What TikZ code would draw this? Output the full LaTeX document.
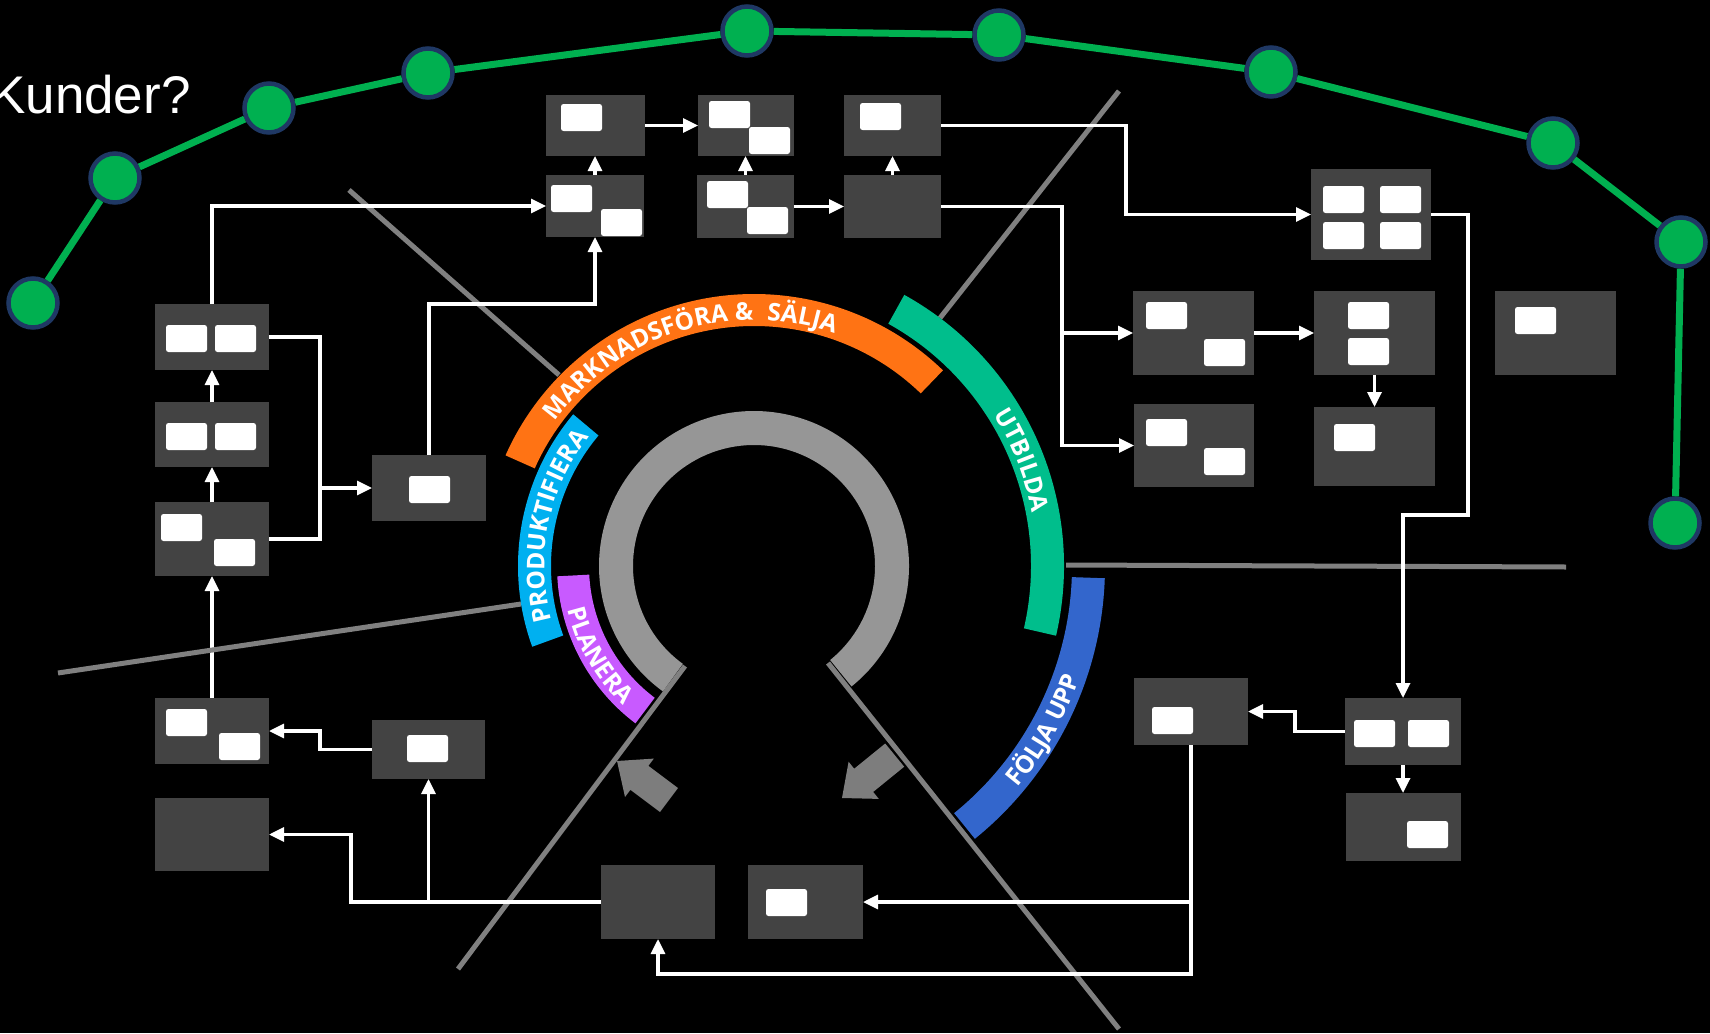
\documentclass[tikz,border=0pt]{standalone}
\usepackage{fontspec}
\setmainfont{Liberation Sans}
\newfontfamily\osans{Open Sans}
\usetikzlibrary{arrows.meta,fit,decorations.text}
\definecolor{boxc}{RGB}{67,67,67}
\definecolor{gline}{RGB}{0,176,80}
\definecolor{navy}{RGB}{31,56,100}
\definecolor{sepc}{RGB}{128,128,128}
\definecolor{ringc}{RGB}{150,150,150}
\definecolor{blockc}{RGB}{125,125,125}
\definecolor{orangeC}{RGB}{255,115,20}
\definecolor{tealC}{RGB}{0,190,140}
\definecolor{blueC}{RGB}{51,102,204}
\definecolor{cyanC}{RGB}{0,176,240}
\definecolor{purpleC}{RGB}{200,90,255}
\newcommand{\bx}[5]{\node[box, fit={(#2,#3) (#4,#5)}] (#1) {};}
\newcommand{\wsq}[2]{\fill[white, rounded corners=2.5pt] (#1,#2) rectangle ++(41,27);}
% band: colour, start angle, end angle (tikz angles, y flipped), inner r, outer r
\newcommand{\band}[5]{\fill[#1] (#2:#5) arc[start angle=#2, end angle=#3, radius=#5] -- (#3:#4) arc[start angle=#3, end angle=#2, radius=#4] -- cycle;}
\newcommand{\arcfont}{\osans\bfseries\fontsize{24.5}{24.5}\selectfont}
\tikzset{
 box/.style={fill=boxc, draw=none, inner sep=0pt, outer sep=0pt},
 conn/.style={draw=white, line width=3.2pt, -{Triangle[length=15pt,width=14pt]}},
 wire/.style={draw=white, line width=3.2pt},
 cust/.style={circle, fill=gline, draw=navy, line width=4.5pt, minimum size=49pt, inner sep=0pt},
 sepline/.style={draw=sepc, line width=5pt},
 custline/.style={draw=gline, line width=7pt},
 arclabel/.style={decorate, decoration={text along path, text align=center, text color=white, text={#1}}}
}
\begin{document}
\begin{tikzpicture}[x=1pt,y=-1pt]
\fill[black] (0,0) rectangle (1710,1033);
\useasboundingbox (0,0) rectangle (1710,1033);

% customer chain
\node[text=white, font=\fontsize{53}{53}\selectfont, anchor=base west, inner sep=0pt] (kunder) at (-10,113) {Kunder?};
\node[cust] (n1) at (33,303) {};
\node[cust] (n2) at (115,178) {};
\node[cust] (n3) at (269,108) {};
\node[cust] (n4) at (428,73) {};
\node[cust] (n5) at (747,31) {};
\node[cust] (n6) at (999,35) {};
\node[cust] (n7) at (1271,72) {};
\node[cust] (n8) at (1553,143) {};
\node[cust] (n9) at (1681,242) {};
\node[cust] (n10) at (1675,523) {};
\draw[custline] (n1) -- (n2);
\draw[custline] (n2) -- (n3);
\draw[custline] (n3) -- (n4);
\draw[custline] (n4) -- (n5);
\draw[custline] (n5) -- (n6);
\draw[custline] (n6) -- (n7);
\draw[custline] (n7) -- (n8);
\draw[custline] (n8) -- (n9);
\draw[custline] (n9) -- (n10);

% separator lines
\draw[sepline] (349,190) -- (559,375);
\draw[sepline] (940,318) -- (1119,91);
\draw[sepline] (1066,565) -- (1566,567);
\draw[sepline] (685,666) -- (458,969);
\draw[sepline] (828,663) -- (1119,1029);

% boxes
\bx{B1}{546}{95}{645}{156}
\bx{B2}{698}{95}{794}{156}
\bx{B3}{844}{95}{941}{156}
\bx{B4}{546}{175}{644}{237}
\bx{B5}{697}{175}{794}{238}
\bx{B6}{844}{175}{941}{238}
\bx{B7}{155}{304}{269}{370}
\bx{B8}{155}{402}{269}{467}
\bx{B9}{155}{502}{269}{576}
\bx{B10}{372}{455}{486}{521}
\bx{B11}{155}{698}{269}{764}
\bx{B12}{372}{720}{485}{779}
\bx{B13}{155}{798}{269}{871}
\bx{B14}{601}{865}{715}{939}
\bx{B15}{748}{865}{863}{939}
\bx{B16}{1311}{169}{1431}{260}
\bx{B17}{1133}{291}{1254}{375}
\bx{B18}{1314}{291}{1435}{375}
\bx{B19}{1495}{291}{1616}{375}
\bx{B20}{1134}{404}{1254}{487}
\bx{B21}{1314}{407}{1435}{486}
\bx{B22}{1134}{678}{1248}{745}
\bx{B23}{1345}{698}{1461}{765}
\bx{B24}{1346}{793}{1461}{861}

% white cards
\wsq{561}{104}
\wsq{709}{101}\wsq{749}{127}
\wsq{860}{103}
\wsq{551}{185}\wsq{601}{209}
\wsq{707}{181}\wsq{747}{207}
\wsq{166}{325}\wsq{215}{325}
\wsq{166}{423}\wsq{215}{423}
\wsq{161}{514}\wsq{214}{539}
\wsq{409}{476}
\wsq{166}{709}\wsq{219}{733}
\wsq{407}{735}
\wsq{766}{889}
\wsq{1323}{186}\wsq{1380}{186}\wsq{1323}{222}\wsq{1380}{222}
\wsq{1146}{302}\wsq{1204}{339}
\wsq{1348}{302}\wsq{1348}{338}
\wsq{1515}{307}
\wsq{1146}{419}\wsq{1204}{448}
\wsq{1334}{424}
\wsq{1152}{707}
\wsq{1354}{720}\wsq{1408}{720}
\wsq{1407}{821}

% junctions
\coordinate (j1) at (1062,333);
\coordinate (j2) at (1191,902);
\coordinate (j3) at (428.5,902);
\coordinate (j4) at (320,488);

% connectors
\draw[conn] (B4.north) -- (B4.north |- B1.south);
\draw[conn] (B1.east) -- (B1.east -| B2.west);
\draw[conn] (B5.north) -- (B5.north |- B2.south);
\draw[conn] (B5.east) -- (B5.east -| B6.west);
\draw[conn] (B6.north) -- (B6.north |- B3.south);
\draw[conn] (B3.east) -| (1126,214.5) -- (B16.west);
\draw[conn] (B6.east) -| (1062,445.5) -- (B20.west);
\draw[conn] (j1) -- (B17.west);
\draw[conn] (B17.east) -- (B17.east -| B18.west);
\draw[conn] (B18.south) -- (B18.south |- B21.north);
\draw[conn] (B16.east) -| (1468,515) -| (B23.north);
\draw[conn] (B23.west) -| (1295,711.5) -- (B22.east);
\draw[conn] (B23.south) -- (B23.south |- B24.north);
\draw[conn] (B22.south) -- (1191,974) -| (B14.south);
\draw[conn] (j2) -- (B15.east);
\draw[conn] (B14.west) -| (351,834.5) -- (B13.east);
\draw[conn] (j3) -- (B12.south);
\draw[conn] (B12.west) -| (320,731) -- (B11.east);
\draw[conn] (B11.north) -- (B11.north |- B9.south);
\draw[conn] (B9.north) -- (B9.north |- B8.south);
\draw[conn] (B8.north) -- (B8.north |- B7.south);
\draw[conn] (B7.north) |- (B4.west);
\draw[wire] (B7.east) -| (320,539) -- (B9.east);
\draw[conn] (j4) -- (B10.west);
\draw[conn] (B10.north) |- (595,304) -- (B4.south);

\draw[sepline] (58,673) -- (521,604);

% spiral of bands
\begin{scope}[shift={(754,566)}]
\band{ringc}{51}{-234}{121}{155}
\band{purpleC}{-183}{-233}{165}{197}
\band{cyanC}{-140}{-200}{203}{236}
\band{orangeC}{-46}{-156}{240}{272}
\band{tealC}{13}{-61}{277}{310}
\band{blueC}{51}{2}{318}{351}
\path[arclabel={|\arcfont|MARKNADSFÖRA {\&\hspace{7pt}} SÄLJA}] (-154:246) arc[start angle=-154, end angle=-61, radius=246];
\path[arclabel={|\arcfont|UTBILDA}] (-56.5:283.5) arc[start angle=-56.5, end angle=13.5, radius=283.5];
\path[arclabel={|\arcfont|PRODUKTIFIERA}] (-203.5:209.5) arc[start angle=-203.5, end angle=-133.5, radius=209.5];
\path[arclabel={|\arcfont|FÖLJA UPP}] (64.5:344.5) arc[start angle=64.5, end angle=-5.5, radius=344.5];
\path[arclabel={|\arcfont|PLANERA}] (-180:191) arc[start angle=-180, end angle=-240, radius=191];
\end{scope}

% block arrows
\fill[blockc] (617,761) -- (653.8,758.6) -- (648.4,765.8) -- (678,788) -- (660,812) -- (630.4,789.8) -- (625,797) -- cycle;
\fill[blockc] (842,798) -- (878.8,798.9) -- (873.2,791.9) -- (904.2,766.7) -- (885.2,743.5) -- (854.2,768.7) -- (848.6,761.7) -- cycle;
\end{tikzpicture}
\end{document}
